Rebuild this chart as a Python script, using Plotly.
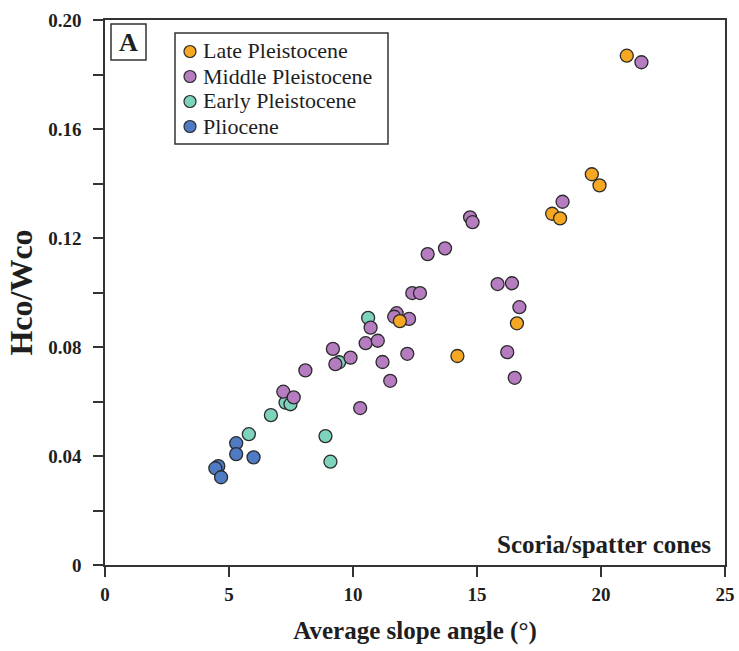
import plotly.graph_objects as go

# Hco/Wco versus average slope angle, grouped by age
late_x = [21.04, 19.63, 19.94, 18.03, 18.35, 11.89, 16.61, 14.21]
late_y = [0.1869, 0.1434, 0.1393, 0.1289, 0.1272, 0.0895, 0.0887, 0.0767]

middle_x = [21.63, 18.45, 14.72, 14.82, 13.71, 13.01, 12.39, 12.70, 15.83, 16.41,
            16.71, 16.22, 16.52, 10.71, 11.76, 11.66, 12.26, 10.51, 11.00, 9.19,
            9.29, 9.90, 11.19, 12.19, 11.50, 8.08, 7.19, 7.61, 10.29]
middle_y = [0.1845, 0.1333, 0.1276, 0.1258, 0.1162, 0.1141, 0.0998, 0.0998, 0.1031, 0.1034,
            0.0946, 0.0781, 0.0687, 0.0871, 0.0924, 0.0911, 0.0903, 0.0814, 0.0823, 0.0793,
            0.0737, 0.0761, 0.0745, 0.0775, 0.0676, 0.0714, 0.0636, 0.0615, 0.0576]

early_x = [10.61, 9.44, 7.28, 7.48, 6.69, 5.80, 8.89, 9.09]
early_y = [0.0907, 0.0744, 0.0596, 0.0590, 0.0550, 0.0480, 0.0473, 0.0379]

plio_x = [5.29, 5.29, 5.99, 4.57, 4.45, 4.68]
plio_y = [0.0447, 0.0407, 0.0395, 0.0363, 0.0355, 0.0322]

x_ticks = [0, 5, 10, 15, 20, 25]
y_ticks = [0, 0.04, 0.08, 0.12, 0.16, 0.20]
y_ticktext = ["0", "0.04", "0.08", "0.12", "0.16", "0.20"]
y_minor = [0.02, 0.06, 0.10, 0.14, 0.18]

SERIF = "Liberation Serif"
EDGE = "#2b2b2b"
INK = "#1e1e1e"
FRAME = "#333333"

# drawing order: older groups first so younger ones sit on top
series = [
    ("Pliocene", plio_x, plio_y, "#4F7BC4"),
    ("Early Pleistocene", early_x, early_y, "#7DD3BC"),
    ("Middle Pleistocene", middle_x, middle_y, "#B57CC0"),
    ("Late Pleistocene", late_x, late_y, "#F7A823"),
]

W, H = 739, 651
M_L, M_R, M_T, M_B = 105, 14, 20, 86
PW, PH = W - M_L - M_R, H - M_T - M_B


def px_x(px):
    return (px - M_L) / PW


def px_y(py):
    return (H - M_B - py) / PH


fig = go.Figure()
for name, xs, ys, color in series:
    fig.add_trace(go.Scatter(
        x=xs, y=ys, mode="markers", name=name, showlegend=False,
        marker=dict(size=13, color=color, line=dict(color=EDGE, width=1.3)),
    ))

axis_common = dict(
    showline=True, linecolor=FRAME, linewidth=1.5, mirror=True,
    ticks="outside", ticklen=10, tickwidth=1.5, tickcolor=FRAME,
    showgrid=False, zeroline=False, automargin=False,
    tickfont=dict(family=SERIF, size=19, color=INK, weight="bold"),
)

fig.update_xaxes(
    range=[0, 25], tickvals=x_ticks, ticklabelstandoff=1,
    title=dict(text="Average slope angle (°)", standoff=18,
               font=dict(family=SERIF, size=25, color=INK, weight="bold")),
    **axis_common,
)
fig.update_yaxes(
    range=[0, 0.20], tickvals=y_ticks, ticktext=y_ticktext, ticklabelstandoff=8,
    minor=dict(tickvals=y_minor, ticks="outside", ticklen=10, tickwidth=1.5, tickcolor=FRAME),
    title=dict(text="Hco/Wco", standoff=6,
               font=dict(family=SERIF, size=32, color=INK, weight="bold")),
    **axis_common,
)

shapes = []
annotations = []

# panel label box
shapes.append(dict(type="rect", xref="paper", yref="paper",
                   x0=px_x(111), x1=px_x(146), y0=px_y(60), y1=px_y(24),
                   line=dict(color=FRAME, width=1.5), fillcolor="white", layer="above"))
annotations.append(dict(text="A", xref="paper", yref="paper",
                        x=px_x(128.5), y=px_y(43), xanchor="center", yanchor="middle",
                        showarrow=False,
                        font=dict(family=SERIF, size=26, color=INK, weight="bold")))

# legend box with one entry per age group (youngest first)
shapes.append(dict(type="rect", xref="paper", yref="paper",
                   x0=px_x(175), x1=px_x(388), y0=px_y(144), y1=px_y(33),
                   line=dict(color=FRAME, width=1.5), fillcolor="white", layer="above"))
row_y = [51, 76, 101, 126]
for (name, _, _, color), ry in zip(reversed(series), row_y):
    shapes.append(dict(type="circle", xref="paper", yref="paper",
                       xsizemode="pixel", ysizemode="pixel",
                       xanchor=px_x(190), yanchor=px_y(ry + 0.5),
                       x0=-6, x1=6, y0=-6, y1=6,
                       fillcolor=color, line=dict(color=EDGE, width=1.2), layer="above"))
    annotations.append(dict(text=name, xref="paper", yref="paper",
                            x=px_x(201), y=px_y(ry), xanchor="left", yanchor="middle",
                            showarrow=False,
                            font=dict(family=SERIF, size=22, color=INK)))

annotations.append(dict(text="Scoria/spatter cones", xref="paper", yref="paper",
                        x=px_x(713), y=px_y(544), xanchor="right", yanchor="middle",
                        showarrow=False,
                        font=dict(family=SERIF, size=25, color=INK, weight="bold")))

fig.update_layout(
    width=W, height=H,
    margin=dict(l=M_L, r=M_R, t=M_T, b=M_B),
    plot_bgcolor="white", paper_bgcolor="white",
    showlegend=False,
    shapes=shapes,
    annotations=annotations,
)

fig.write_html("out.html")
